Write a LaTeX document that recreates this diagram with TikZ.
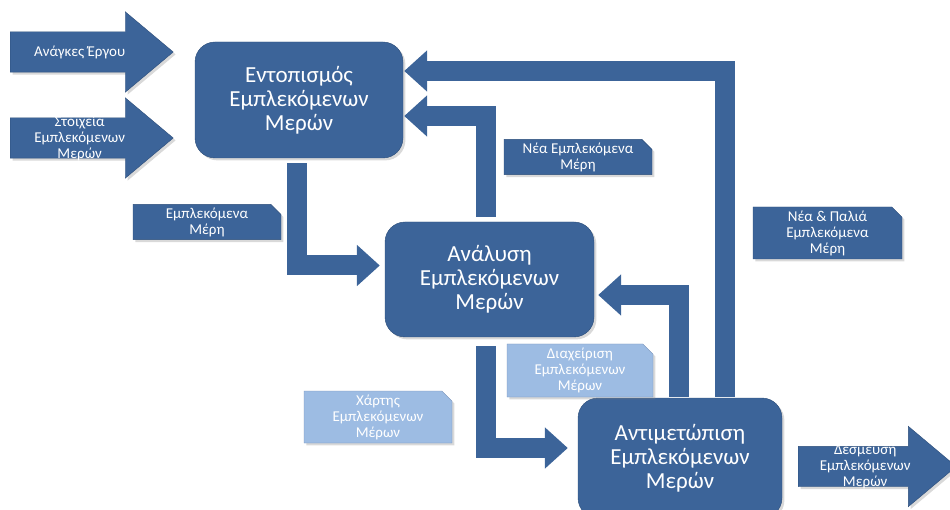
\documentclass[tikz,border=0pt]{standalone}
\usepackage{fontspec}
\setmainfont{Carlito}
\usetikzlibrary{shapes,arrows.meta,positioning,calc,shadows}

\definecolor{boxblue}{RGB}{60,100,153}
\definecolor{boxedge}{RGB}{45,78,122}
\definecolor{paleblue}{RGB}{157,188,227}

\tikzset{
  phase/.style={draw=boxedge, fill=boxblue, rounded corners=20pt, text=white, align=center,
    inner sep=2pt, font=\fontsize{23}{24}\selectfont, drop shadow={opacity=0.3}},
  tag/.style={chamfered rectangle, chamfered rectangle corners=north east,
    chamfered rectangle xsep=7pt, draw=boxedge, fill=boxblue, text=white, align=center,
    inner sep=0pt, font=\fontsize{15}{16}\selectfont, drop shadow={opacity=0.3}},
  paletag/.style={tag, fill=paleblue, draw=boxblue!70},
  inarrow/.style={single arrow, single arrow head extend=20pt, single arrow tip angle=80,
    draw=boxedge, fill=boxblue, minimum width=80pt, minimum height=163pt,
    inner xsep=0pt, inner ysep=20pt, anchor=tail, drop shadow={opacity=0.3}},
  arrowtext/.style={text=white, align=center, inner sep=0pt, font=\fontsize{15}{16}\selectfont},
  flow/.style={draw=boxblue, line width=20pt, -{Triangle[length=23pt,width=40pt]}}
}

\begin{document}
\begin{tikzpicture}[x=1pt,y=-1pt]
\useasboundingbox (0,0) rectangle (950,510);

% inputs and output
\node[inarrow, label={[arrowtext]center:Ανάγκες Έργου}] (needs) at (10,52) {};
\node[inarrow, label={[arrowtext]center:Στοιχεία\\Εμπλεκόμενων\\Μερών}] (data) at (10,138) {};
\node[inarrow, minimum height=158pt, label={[arrowtext]center:Δέσμευση\\Εμπλεκόμενων\\Μερών}] (commit) at (798,466.5) {};

% main phases
\node[phase, minimum width=208pt, minimum height=116pt] (loc) at (299,100) {Εντοπισμός\\Εμπλεκόμενων\\Μερών};
\node[phase, minimum width=209pt, minimum height=115pt] (ana) at (489.5,279.5) {Ανάλυση\\Εμπλεκόμενων\\Μερών};
\node[phase, minimum width=204pt, minimum height=120pt] (ant) at (680,458) {Αντιμετώπιση\\Εμπλεκόμενων\\Μερών};

% flows between phases
\draw[flow] ($(loc.south)+(-2,5)$) |- ($(ana.west)+(-5,-14)$);
\draw[flow] ($(ana.south)+(-3.5,9)$) |- ($(ant.west)+(-10,-10)$);
\draw[flow] ($(ana.north)+(-3.5,-5)$) |- ($(loc.east)+(1,16)$);
\draw[flow] ($(ant.north)+(45,-1)$) |- ($(loc.east)+(1,-29)$);
\draw[flow] ($(ant.north)+(-1,-1)$) |- ($(ana.east)+(4,15.5)$);

% tags
\node[tag, minimum width=148pt, minimum height=32pt] (parts) at (207,222) {Εμπλεκόμενα\\Μέρη};
\node[tag, minimum width=148pt, minimum height=32pt] (newparts) at (578,157) {Νέα Εμπλεκόμενα\\Μέρη};
\node[tag, minimum width=149pt, minimum height=52pt] (allparts) at (827.5,233) {Νέα \& Παλιά\\Εμπλεκόμενα\\Μέρη};
\node[paletag, minimum width=146pt, minimum height=53pt] (manage) at (580,370.5) {Διαχείριση\\Εμπλεκόμενων\\Μέρων};
\node[paletag, minimum width=148pt, minimum height=52pt] (map) at (378,417) {Χάρτης\\Εμπλεκόμενων\\Μέρων};
\end{tikzpicture}
\end{document}
